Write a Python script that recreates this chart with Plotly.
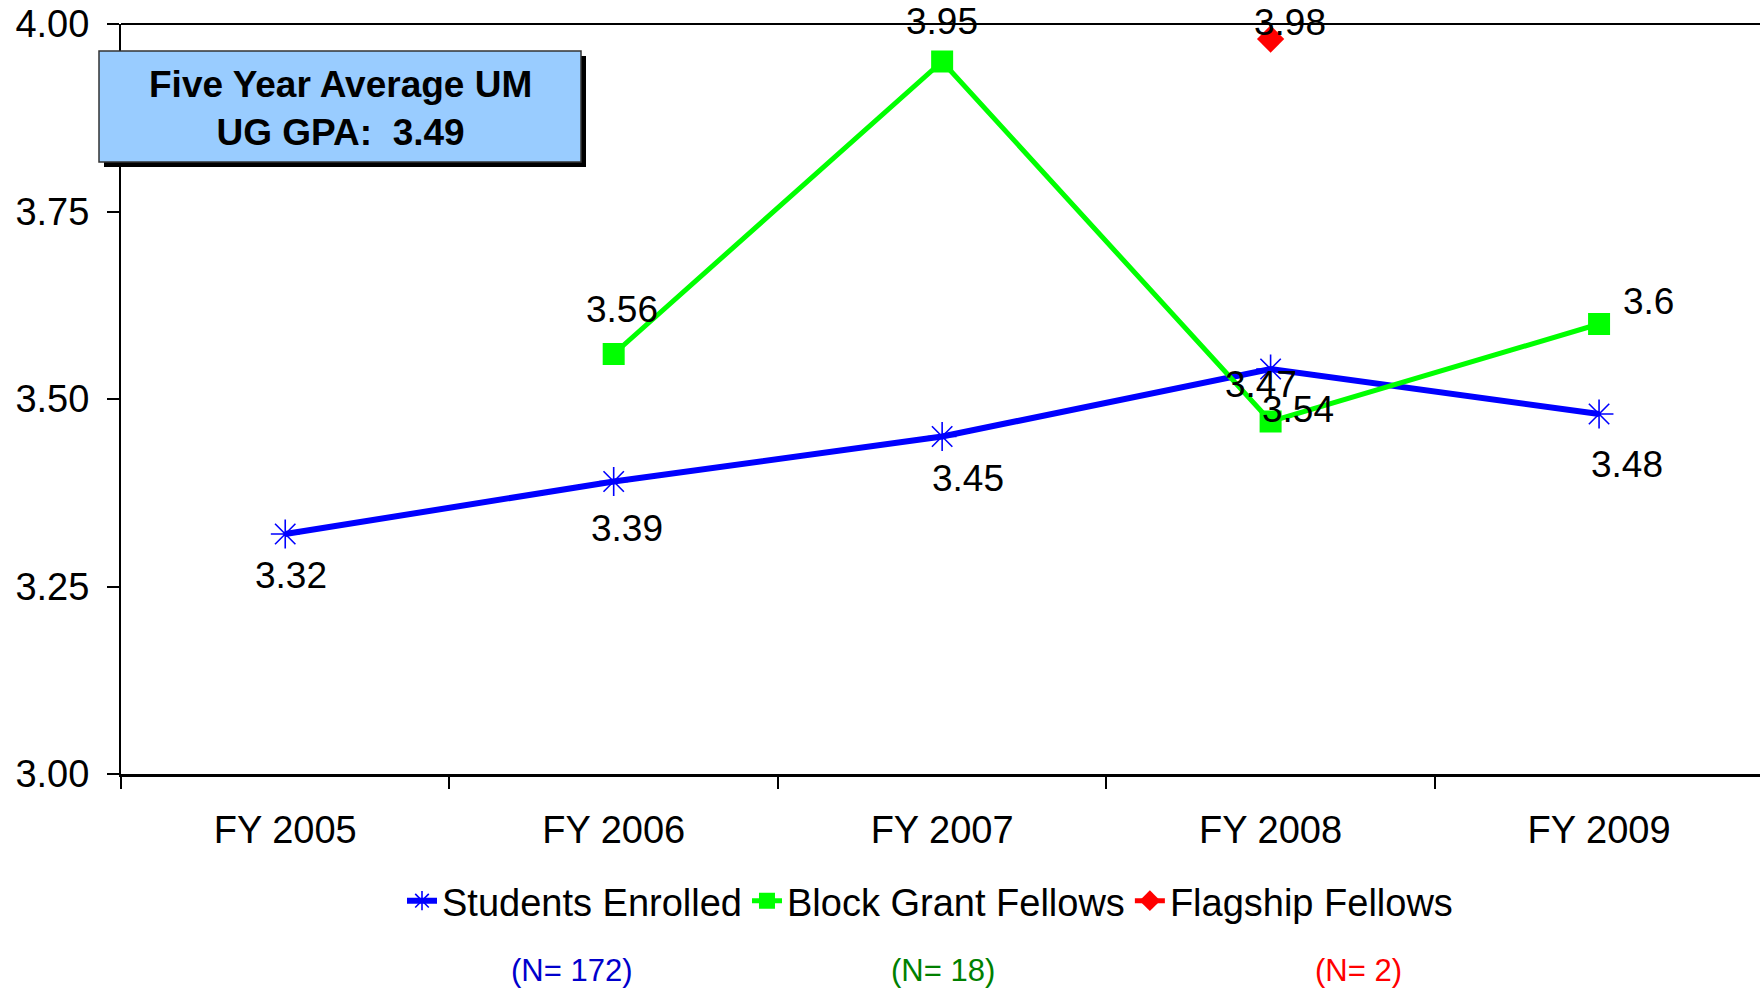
import plotly.graph_objects as go

categories = ["FY 2005", "FY 2006", "FY 2007", "FY 2008", "FY 2009"]
students_enrolled = [3.32, 3.39, 3.45, 3.54, 3.48]
block_grant = [None, 3.56, 3.95, 3.47, 3.60]
flagship = [None, None, None, 3.98, None]
n_labels = ["(N= 172)", "(N= 18)", "(N= 2)"]
y_ticks = [3.00, 3.25, 3.50, 3.75, 4.00]
box_text = "Five Year Average UM<br>UG GPA:  3.49"

W, H = 1760, 988
L, R, T, B = 121, 0, 24, 214
PW, PH = W - L - R, H - T - B

def px(x):
    return (x - L) / PW

def py(y):
    return (H - B - y) / PH

FONT = "Liberation Sans, Arial, sans-serif"
BLUE, GREEN, RED = "#0000FF", "#00FF00", "#FF0000"

fig = go.Figure()
fig.add_trace(go.Scatter(
    x=categories, y=students_enrolled, name="Students Enrolled",
    mode="lines+markers", line=dict(color=BLUE, width=6),
    marker=dict(symbol="asterisk-open", size=24, color=BLUE, line=dict(color=BLUE, width=1.6)),
))
fig.add_trace(go.Scatter(
    x=categories, y=block_grant, name="Block Grant Fellows",
    mode="lines+markers", line=dict(color=GREEN, width=5),
    marker=dict(symbol="square", size=22, color=GREEN),
))
fig.add_trace(go.Scatter(
    x=categories, y=flagship, name="Flagship Fellows",
    mode="lines+markers", line=dict(color=RED, width=5),
    marker=dict(symbol="diamond", size=21, color=RED),
))

# data labels
blue_off = [(6, -41), (13, -47), (26, -42), (27, -40), (28, -50)]
green_off = [None, (8, 45), (0, 40), (-10, 37), (49, 23)]
red_off = [None, None, None, (19, 17), None]
annotations = []
for series, offs in ((students_enrolled, blue_off), (block_grant, green_off), (flagship, red_off)):
    for c, v, o in zip(categories, series, offs):
        if v is None:
            continue
        annotations.append(dict(
            x=c, y=v, xref="x", yref="y", text=f"{v:g}", showarrow=False,
            xshift=o[0], yshift=o[1], font=dict(family=FONT, size=37, color="black"),
        ))

# N annotations
n_colors = ["#0000CC", "#008000", "#FF0000"]
n_x = [571, 943, 1358]
for t, c, x in zip(n_labels, n_colors, n_x):
    annotations.append(dict(
        x=px(x), y=py(970), xref="paper", yref="paper", text=t, showarrow=False,
        xanchor="center", yanchor="middle", font=dict(family=FONT, size=31, color=c),
    ))

# Box text
annotations.append(dict(
    x=px(340), y=py(109), xref="paper", yref="paper",
    text="<b>" + box_text.replace("<br>", "</b><br><b>") + "</b>",
    showarrow=False, xanchor="center", yanchor="middle", align="center",
    font=dict(family=FONT, size=37, color="black"),
))

shapes = [
    dict(type="line", xref="paper", yref="paper", x0=0, x1=1, y0=1, y1=1,
         line=dict(color="black", width=2)),
    dict(type="rect", xref="paper", yref="paper", x0=px(104), x1=px(586), y0=py(167), y1=py(56),
         fillcolor="black", line=dict(width=0)),
    dict(type="rect", xref="paper", yref="paper", x0=px(99), x1=px(581), y0=py(162), y1=py(51),
         fillcolor="#99CCFF", line=dict(color="#333333", width=1.5)),
]

fig.update_layout(
    width=W, height=H,
    margin=dict(l=L, r=R, t=T, b=B, autoexpand=False),
    paper_bgcolor="white", plot_bgcolor="white",
    font=dict(family=FONT, size=37, color="black"),
    showlegend=True,
    legend=dict(orientation="h", x=px(930), xanchor="center", y=py(901), yanchor="middle",
                font=dict(family=FONT, size=38, color="black"),
                bgcolor="rgba(0,0,0,0)", tracegroupgap=0),
    annotations=annotations,
    shapes=shapes,
)
fig.update_xaxes(
    type="category", range=[-0.5, 4.49], showgrid=False, zeroline=False,
    showline=True, linecolor="black", linewidth=3,
    ticks="outside", tickson="boundaries", ticklen=12, tickwidth=2, tickcolor="black",
    ticklabelstandoff=20, tickfont=dict(family=FONT, size=38, color="black"),
)
fig.update_yaxes(
    range=[3.0, 4.0], tickvals=y_ticks, ticktext=[f"{v:.2f}" for v in y_ticks],
    showgrid=False, zeroline=False, showline=True, linecolor="black", linewidth=2,
    ticks="outside", ticklen=12, tickwidth=2, tickcolor="black",
    ticklabelstandoff=10, tickfont=dict(family=FONT, size=38, color="black"),
)

fig.write_html(
    "out.html",
    config={"displayModeBar": False},
    post_script="document.body.style.margin='0';document.body.style.overflow='hidden';",
)
